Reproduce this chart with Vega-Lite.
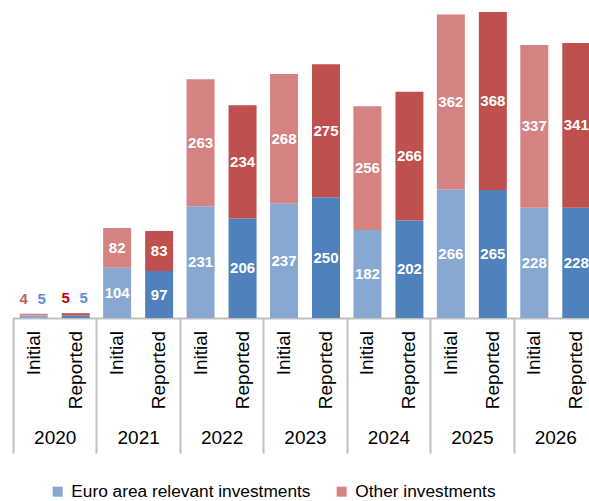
{
  "$schema": "https://vega.github.io/schema/vega-lite/v6.json",
  "width": 576,
  "height": 318,
  "autosize": {"type": "none"},
  "padding": {"left": 13, "top": 0, "right": 0, "bottom": 183},
  "config": {"view": {"stroke": null}, "font": "Liberation Sans"},
  "data": {
    "values": [
      {"year": "2020", "type": "Initial", "series": "Euro area relevant investments", "value": 5},
      {"year": "2020", "type": "Initial", "series": "Other investments", "value": 4},
      {"year": "2020", "type": "Reported", "series": "Euro area relevant investments", "value": 5},
      {"year": "2020", "type": "Reported", "series": "Other investments", "value": 5},
      {"year": "2021", "type": "Initial", "series": "Euro area relevant investments", "value": 104},
      {"year": "2021", "type": "Initial", "series": "Other investments", "value": 82},
      {"year": "2021", "type": "Reported", "series": "Euro area relevant investments", "value": 97},
      {"year": "2021", "type": "Reported", "series": "Other investments", "value": 83},
      {"year": "2022", "type": "Initial", "series": "Euro area relevant investments", "value": 231},
      {"year": "2022", "type": "Initial", "series": "Other investments", "value": 263},
      {"year": "2022", "type": "Reported", "series": "Euro area relevant investments", "value": 206},
      {"year": "2022", "type": "Reported", "series": "Other investments", "value": 234},
      {"year": "2023", "type": "Initial", "series": "Euro area relevant investments", "value": 237},
      {"year": "2023", "type": "Initial", "series": "Other investments", "value": 268},
      {"year": "2023", "type": "Reported", "series": "Euro area relevant investments", "value": 250},
      {"year": "2023", "type": "Reported", "series": "Other investments", "value": 275},
      {"year": "2024", "type": "Initial", "series": "Euro area relevant investments", "value": 182},
      {"year": "2024", "type": "Initial", "series": "Other investments", "value": 256},
      {"year": "2024", "type": "Reported", "series": "Euro area relevant investments", "value": 202},
      {"year": "2024", "type": "Reported", "series": "Other investments", "value": 266},
      {"year": "2025", "type": "Initial", "series": "Euro area relevant investments", "value": 266},
      {"year": "2025", "type": "Initial", "series": "Other investments", "value": 362},
      {"year": "2025", "type": "Reported", "series": "Euro area relevant investments", "value": 265},
      {"year": "2025", "type": "Reported", "series": "Other investments", "value": 368},
      {"year": "2026", "type": "Initial", "series": "Euro area relevant investments", "value": 228},
      {"year": "2026", "type": "Initial", "series": "Other investments", "value": 337},
      {"year": "2026", "type": "Reported", "series": "Euro area relevant investments", "value": 228},
      {"year": "2026", "type": "Reported", "series": "Other investments", "value": 341}
    ]
  },
  "transform": [
    {"stack": "value", "groupby": ["year", "type"], "sort": [{"field": "series", "order": "ascending"}], "as": ["v0", "v1"]},
    {"joinaggregate": [{"op": "sum", "field": "value", "as": "total"}], "groupby": ["year", "type"]}
  ],
  "encoding": {
    "x": {
      "field": "year",
      "type": "nominal",
      "scale": {"range": [0, 584], "paddingInner": 0, "paddingOuter": 0},
      "axis": {
        "title": null,
        "orient": "bottom",
        "domain": true,
        "domainColor": "#bfbfbf",
        "domainWidth": 2,
        "ticks": true,
        "tickBand": "extent",
        "tickSize": 135,
        "tickColor": "#bfbfbf",
        "tickWidth": 2,
        "labelFontSize": 19,
        "labelColor": "#000000",
        "labelPadding": -25,
        "labelAngle": 0,
        "labelFont": "Liberation Sans"
      }
    },
    "xOffset": {"field": "type", "type": "nominal", "scale": {"paddingInner": 0.3333, "paddingOuter": 0.16}}
  },
  "layer": [
    {
      "transform": [{"filter": "datum.type === 'Initial'"}],
      "mark": {"type": "bar"},
      "encoding": {
        "y": {"field": "v0", "type": "quantitative", "scale": {"domain": [0, 658], "nice": false, "zero": true}, "axis": null},
        "y2": {"field": "v1"},
        "color": {
          "field": "series",
          "type": "nominal",
          "scale": {"domain": ["Euro area relevant investments", "Other investments"], "range": ["#86a8d1", "#d58282"]},
          "legend": {
            "title": null,
            "orient": "none",
            "legendX": 36,
            "legendY": 483,
            "direction": "horizontal",
            "symbolType": "square",
            "symbolSize": 100,
            "symbolStrokeWidth": 0,
            "labelFontSize": 17.3,
            "labelColor": "#000000",
            "labelFont": "Liberation Sans",
            "labelLimit": 0,
            "columnPadding": 22,
            "labelOffset": 5
          }
        }
      }
    },
    {
      "transform": [{"filter": "datum.type === 'Reported'"}],
      "mark": {"type": "bar"},
      "encoding": {
        "y": {"field": "v0", "type": "quantitative", "axis": null},
        "y2": {"field": "v1"},
        "color": {
          "field": "series",
          "type": "nominal",
          "scale": {"domain": ["Euro area relevant investments", "Other investments"], "range": ["#4f81bd", "#c0504d"]},
          "legend": null
        }
      }
    },
    {
      "transform": [
        {"filter": "datum.year !== '2020'"},
        {"fold": ["v0", "v1"], "as": ["edge", "pos"]},
        {"aggregate": [{"op": "mean", "field": "pos", "as": "mid"}], "groupby": ["year", "type", "series", "value"]}
      ],
      "mark": {"type": "text", "color": "#ffffff", "fontWeight": "bold", "fontSize": 15, "baseline": "middle", "font": "Liberation Sans"},
      "encoding": {
        "y": {"field": "mid", "type": "quantitative"},
        "text": {"field": "value", "type": "quantitative"}
      }
    },
    {
      "transform": [{"filter": "datum.year === '2020' && datum.series === 'Other investments'"}],
      "mark": {"type": "text", "fontWeight": "bold", "fontSize": 15, "dx": -10, "dy": -15, "font": "Liberation Sans"},
      "encoding": {
        "y": {"field": "total", "type": "quantitative"},
        "text": {"field": "value", "type": "quantitative"},
        "color": {"condition": {"test": "datum.type === 'Initial'", "value": "#d05a5a"}, "value": "#c00000"}
      }
    },
    {
      "transform": [{"filter": "datum.year === '2020' && datum.series === 'Euro area relevant investments'"}],
      "mark": {"type": "text", "fontWeight": "bold", "fontSize": 15, "dx": 8, "dy": -15, "color": "#5a8fd8", "font": "Liberation Sans"},
      "encoding": {
        "y": {"field": "total", "type": "quantitative"},
        "text": {"field": "value", "type": "quantitative"}
      }
    },
    {
      "transform": [{"filter": "datum.series === 'Euro area relevant investments'"}],
      "mark": {"type": "text", "angle": 270, "align": "right", "baseline": "middle", "dx": -13, "fontSize": 19, "color": "#000000", "font": "Liberation Sans"},
      "encoding": {
        "y": {"datum": 0},
        "text": {"field": "type"}
      }
    }
  ],
  "resolve": {"scale": {"color": "independent"}}
}
